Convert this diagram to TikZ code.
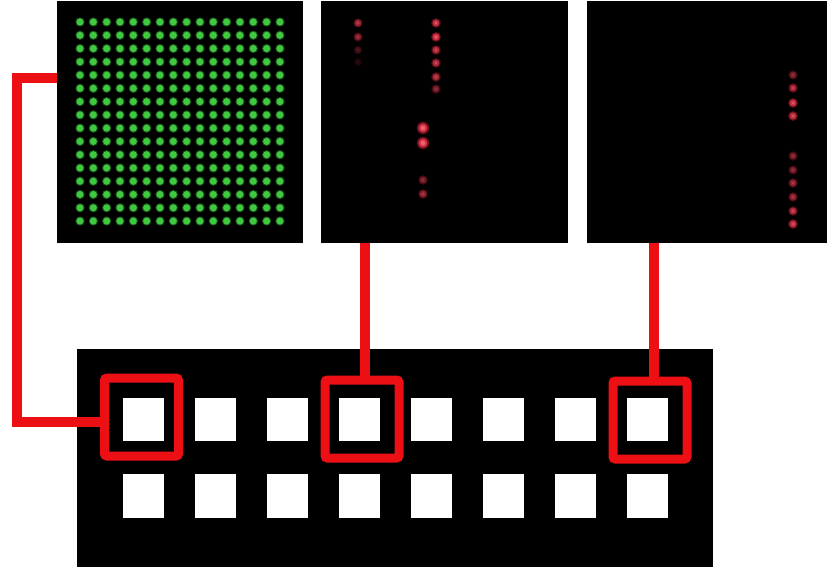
\documentclass[tikz,border=0pt]{standalone}
\usetikzlibrary{calc}

\definecolor{linkred}{RGB}{236,16,20}
\definecolor{gcore}{RGB}{64,200,64}
\definecolor{ghalo}{RGB}{26,92,28}
\definecolor{redhalo}{RGB}{110,16,28}
\definecolor{redcore}{RGB}{220,50,70}
\definecolor{redhot}{RGB}{232,100,115}

% glowing spot: x, y, brightness (0-100), core radius
\newcommand\glowdot[4]{%
  \fill[redhalo!#3!black] (#1,#2) circle ({#4*1.4});
  \fill[redcore!#3!black] (#1,#2) circle (#4);
  \fill[redhot!#3!black] (#1,#2) circle ({#4*0.5});
}

\begin{document}
\begin{tikzpicture}[x=1pt,y=-1pt,
  panel/.style={fill=black,draw=none,inner sep=0pt,anchor=north west},
  pad/.style={fill=white,draw=none,inner sep=0pt,minimum width=41pt,minimum height=43pt},
  frame/.style={draw=linkred,line width=9pt,rounded corners=2.5pt,fill=none,inner sep=0pt,
                minimum width=74pt,minimum height=78pt},
  link/.style={draw=linkred,line width=9.5pt,line join=miter}]

\useasboundingbox (0,0) rectangle (829,575);
\fill[white] (0,0) rectangle (829,575);

% three camera images
\node[panel,minimum width=246pt,minimum height=242pt] (p1) at (57,1) {};
\node[panel,minimum width=247pt,minimum height=242pt] (p2) at (321,1) {};
\node[panel,minimum width=240pt,minimum height=242pt] (p3) at (587,1) {};

% full green spot array
\foreach \i in {0,...,15}{
  \foreach \j in {0,...,15}{
    \fill[ghalo] ({80+13.33*\i},{22+13.27*\j}) circle (4.6);
    \fill[gcore] ({80+13.33*\i},{22+13.27*\j}) circle (3.5);
  }
}

% red spots, middle image
\glowdot{358}{23}{70}{3.3}
\glowdot{358}{37}{60}{3.3}
\glowdot{358}{50}{30}{3.1}
\glowdot{358}{62}{15}{3.1}
\glowdot{436}{23}{90}{3.4}
\glowdot{436}{37}{95}{3.5}
\glowdot{436}{50}{80}{3.4}
\glowdot{436}{63}{80}{3.4}
\glowdot{436}{77}{75}{3.4}
\glowdot{436}{89}{55}{3.3}
\glowdot{423}{128}{100}{4.4}
\glowdot{423}{143}{100}{4.4}
\glowdot{423}{180}{55}{3.4}
\glowdot{423}{194}{65}{3.4}

% red spots, right image
\glowdot{793}{75}{55}{3.3}
\glowdot{793}{88}{75}{3.4}
\glowdot{793}{103}{90}{3.5}
\glowdot{793}{116}{85}{3.5}
\glowdot{793}{156}{55}{3.3}
\glowdot{793}{170}{55}{3.3}
\glowdot{793}{183}{65}{3.4}
\glowdot{793}{197}{65}{3.4}
\glowdot{793}{211}{80}{3.4}
\glowdot{793}{224}{85}{3.5}

% emitter board with two rows of pads
\node[panel,minimum width=636pt,minimum height=218pt] (board) at (77,349) {};
\foreach \k in {1,...,8}{
  \node[pad] (a\k) at ({143.5+72*(\k-1)},419.5) {};
  \node[pad,minimum height=44pt] (b\k) at ({143.5+72*(\k-1)},496) {};
}

% highlighted pads
\node[frame] (f1) at (141.5,417) {};
\node[frame] (f2) at (362,419) {};
\node[frame] (f3) at (650,420) {};

% connectors from images to pads
\coordinate (k1) at (17,78);
\coordinate (k2) at (17,422);
\draw[link] (p1.west |- k1) -- (k1) -- (k2) -- (f1.west |- k2);
\coordinate (k3) at (365,0);
\coordinate (k4) at (654,0);
\draw[link] (k3 |- p2.south) -- (k3 |- f2.north);
\draw[link] (k4 |- p3.south) -- (k4 |- f3.north);

\end{tikzpicture}
\end{document}
